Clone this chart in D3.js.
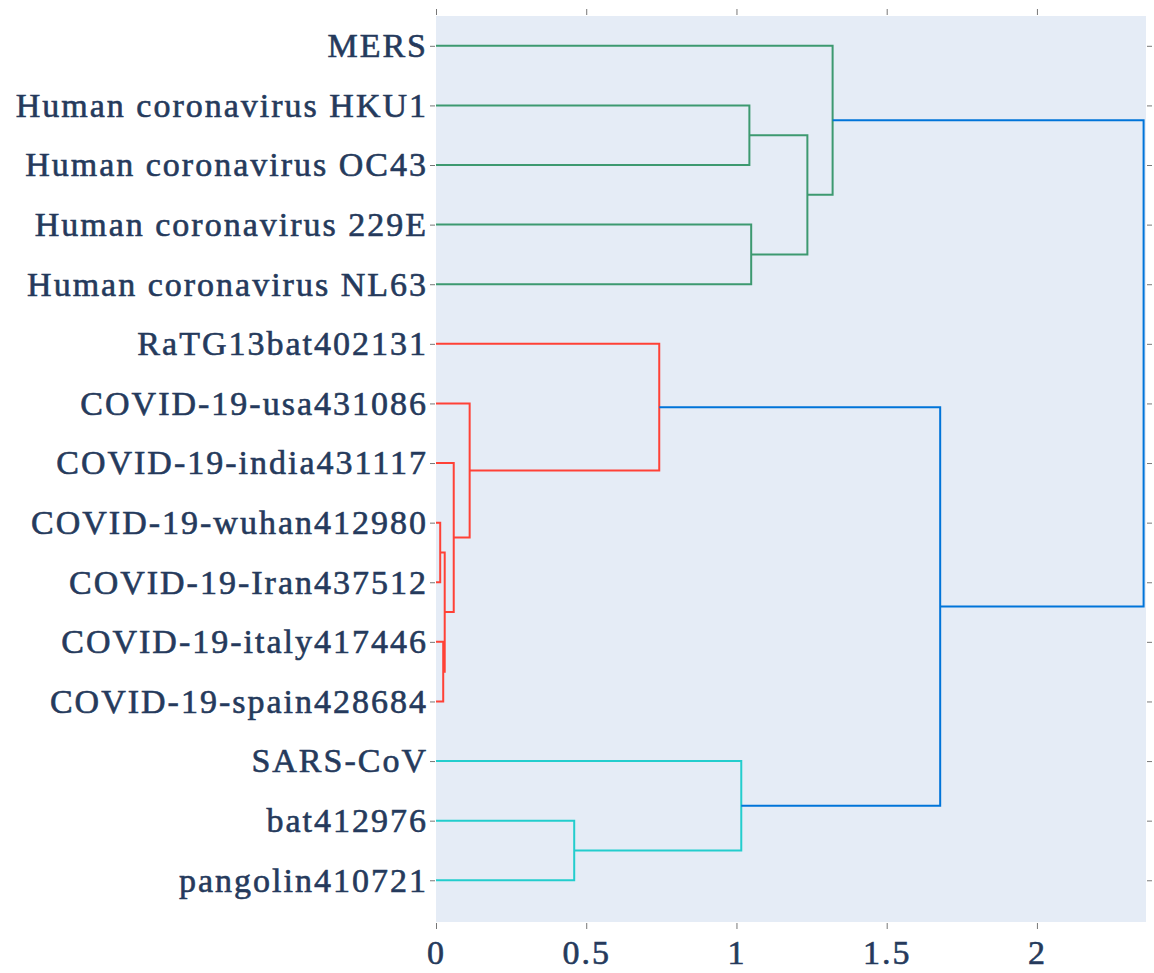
<!DOCTYPE html>
<html>
<head>
<meta charset="utf-8">
<script src="https://cdn.jsdelivr.net/npm/d3@7"></script>
<style>
    body { margin: 0; background: #fff; }
    .myaxis text {
        font-family: "Liberation Serif", "Times New Roman", serif;
        font-size: 34px;
        letter-spacing: 2px;
        fill: #253a5c;
        stroke: #253a5c;
        stroke-width: 0.6px;
    }
    .myaxis line { stroke: #777; }
    .myaxis path { display: none; }
</style>
</head>
<body>
<div id="dendro"></div>
<script>
// leaves, top to bottom
var leaves = ["MERS", "Human coronavirus HKU1", "Human coronavirus OC43",
    "Human coronavirus 229E", "Human coronavirus NL63", "RaTG13bat402131",
    "COVID-19-usa431086", "COVID-19-india431117", "COVID-19-wuhan412980",
    "COVID-19-Iran437512", "COVID-19-italy417446", "COVID-19-spain428684",
    "SARS-CoV", "bat412976", "pangolin410721"];

// merges (scipy style: ids 0..14 are leaves, 15.. are merges in this order)
var mergeA = [1, 3, 15, 0, 8, 10, 19, 7, 6, 5, 13, 12, 24, 18];
var mergeB = [2, 4, 16, 17, 9, 11, 20, 21, 22, 23, 14, 25, 26, 27];
var mergeHeight = [1.043, 1.049, 1.236, 1.320, 0.014, 0.024, 0.029, 0.059,
    0.112, 0.743, 0.460, 1.016, 1.678, 2.355];
var mergeGroup = ["g", "g", "g", "g", "r", "r", "r", "r", "r", "r", "c", "c", "b", "b"];

var xTicks = [0, 0.5, 1, 1.5, 2];
var groupColor = { g: "rgb(61,153,112)", r: "rgb(255,65,54)", c: "rgb(35,205,205)", b: "rgb(0,116,217)" };

var margin = { top: 16, right: 8, bottom: 51, left: 436 },
    width = 1154 - margin.left - margin.right,
    height = 973 - margin.top - margin.bottom;

var svg = d3.select("#dendro")
    .append("svg")
    .attr("width", width + margin.left + margin.right)
    .attr("height", height + margin.top + margin.bottom)
    .append("g")
    .attr("transform", "translate(" + margin.left + "," + margin.top + ")");

// scales (plotly style leaf coordinates 5, 15, 25 ...)
var x = d3.scaleLinear().domain([0, 2.363]).range([0, width]);
var leafPos = leaves.map(function (d, i) { return 5 + 10 * i; });
var y = d3.scaleLinear().domain([0, 152]).range([0, height]);

svg.append("rect")
    .attr("width", width)
    .attr("height", height)
    .attr("fill", "#e5ecf6");

// node positions
var nodeY = leafPos.slice(), nodeX = leaves.map(function () { return 0; });
mergeA.forEach(function (a, i) {
    var b = mergeB[i];
    nodeY.push((nodeY[a] + nodeY[b]) / 2);
    nodeX.push(mergeHeight[i]);
});

svg.selectAll("path.link")
    .data(mergeA)
    .enter()
    .append("path")
    .attr("class", "link")
    .attr("fill", "none")
    .attr("stroke-width", 2)
    .attr("stroke", function (a, i) { return groupColor[mergeGroup[i]]; })
    .attr("d", function (a, i) {
        var b = mergeB[i];
        return "M" + x(nodeX[a]) + "," + y(nodeY[a]) +
            "H" + x(mergeHeight[i]) +
            "V" + y(nodeY[b]) +
            "H" + x(nodeX[b]);
    });

// axes
svg.append("g")
    .attr("class", "myaxis")
    .attr("transform", "translate(0," + (height + 1) + ")")
    .call(d3.axisBottom(x).tickValues(xTicks).tickSize(6).tickPadding(11)
        .tickFormat(function (d) { return d; }));

svg.append("g")
    .attr("class", "myaxis")
    .attr("transform", "translate(0,-1)")
    .call(d3.axisTop(x).tickValues(xTicks).tickSize(6).tickFormat(""));

svg.append("g")
    .attr("class", "myaxis")
    .attr("transform", "translate(-1,0)")
    .call(d3.axisLeft(y).tickValues(leafPos).tickSize(5).tickPadding(2)
        .tickFormat(function (d, i) { return leaves[i]; }));

svg.append("g")
    .attr("class", "myaxis")
    .attr("transform", "translate(" + (width + 1) + ",0)")
    .call(d3.axisRight(y).tickValues(leafPos).tickSize(5).tickFormat(""));
</script>
</body>
</html>
